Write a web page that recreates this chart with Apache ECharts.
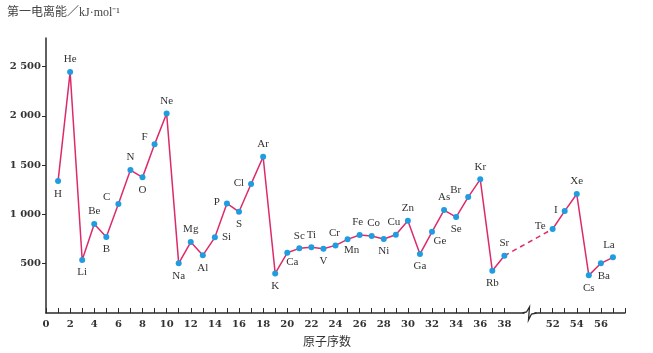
<!DOCTYPE html>
<html><head><meta charset="utf-8">
<script src="https://cdn.jsdelivr.net/npm/echarts@6/dist/echarts.min.js"></script>
<style>html,body{margin:0;padding:0;background:#fff}#c{width:653px;height:353px}</style>
</head><body><div id="c"></div>
<script>
const elements = ['H','He','Li','Be','B','C','N','O','F','Ne','Na','Mg','Al','Si','P','S','Cl','Ar','K','Ca','Sc','Ti','V','Cr','Mn','Fe','Co','Ni','Cu','Zn','Ga','Ge','As','Se','Br','Kr','Rb','Sr','Te','I','Xe','Cs','Ba','La'];
const atomicNumbers = [1,2,3,4,5,6,7,8,9,10,11,12,13,14,15,16,17,18,19,20,21,22,23,24,25,26,27,28,29,30,31,32,33,34,35,36,37,38,52,53,54,55,56,57];
const energies = [1338,2444,537,902,771,1105,1450,1376,1711,2025,504,720,585,768,1112,1027,1308,1585,402,611,656,666,652,686,747,791,781,750,794,936,598,824,1044,973,1176,1356,429,581,852,1034,1207,382,504,565];
const xTickLabels = [0,2,4,6,8,10,12,14,16,18,20,22,24,26,28,30,32,34,36,38,52,54,56];
const yTickLabels = [500,1000,1500,2000,2500];
const breakFrom = 38, breakTo = 52, breakGap = 4;

// axis-break scale: atomic number -> axis position
const toAxis = z => z > breakFrom ? z - (breakTo - breakFrom) + breakGap : z;
const fromAxis = v => v > breakFrom ? v + (breakTo - breakFrom) - breakGap : v;

const labelStyle = {
  H:['bottom',[0,0]], He:['top',[0,0]], Li:['bottom',[0,0]], Be:['top',[0,0]], B:['bottom',[0,0]],
  C:['left',[-1,-7]], N:['top',[0,0]], O:['bottom',[0,0]], F:['left',[0,-7]], Ne:['top',[0,0]],
  Na:['bottom',[0,0]], Mg:['top',[0,0]], Al:['bottom',[0,0]], Si:['right',[0,0]], P:['left',[0,-1]],
  S:['bottom',[0,0]], Cl:['left',[0,-1]], Ar:['top',[0,0]], K:['bottom',[0,0]], Ca:['bottom',[5,-3]],
  Sc:['top',[0,0]], Ti:['top',[0,0]], V:['bottom',[0,0]], Cr:['top',[-1,0]], Mn:['bottom',[4,-2]],
  Fe:['top',[-2,0]], Co:['top',[2,0]], Ni:['bottom',[0,0]], Cu:['top',[-2,0]], Zn:['top',[0,0]],
  Ga:['bottom',[0,0]], Ge:['bottom',[8,-3]], As:['top',[0,0]], Se:['bottom',[0,0]], Br:['left',[0,-7]],
  Kr:['top',[0,0]], Rb:['bottom',[0,0]], Sr:['top',[0,0]], Te:['left',[0,-3]], I:['left',[0,-1]],
  Xe:['top',[0,0]], Cs:['bottom',[0,0]], Ba:['bottom',[3,0]], La:['top',[-4,0]]
};

const solidData = [];
elements.forEach((el, i) => {
  const z = atomicNumbers[i];
  if (z === breakTo) solidData.push(null);
  const ls = labelStyle[el];
  solidData.push({
    value: [toAxis(z), energies[i]],
    name: el,
    label: { show: true, position: ls[0], offset: ls[1], formatter: el }
  });
});
const iSr = atomicNumbers.indexOf(breakFrom), iTe = atomicNumbers.indexOf(breakTo);
const dashedData = [[toAxis(atomicNumbers[iSr]), energies[iSr]], [toAxis(atomicNumbers[iTe]), energies[iTe]]];

const chart = echarts.init(document.getElementById('c'), null, {renderer: 'canvas'});
const axisColor = '#2b2b2b';
const tickFont = {fontFamily: 'DejaVu Serif', fontSize: 10, fontWeight: 'bold', color: '#333'};
const xTicks = [];
for (let v = 0; v <= toAxis(58); v++) { if (v <= breakFrom || v >= toAxis(51)) xTicks.push(v); }

chart.setOption({
  animation: false,
  grid: {left: 46, right: 28, top: 38, bottom: 40},
  xAxis: {
    type: 'value', min: 0, max: toAxis(58),
    axisLine: {lineStyle: {color: axisColor, width: 1.5}},
    axisTick: {show: true, inside: true, length: 5, customValues: xTicks, lineStyle: {color: axisColor, width: 1}},
    axisLabel: {customValues: xTickLabels.map(toAxis), margin: 6, formatter: v => String(Math.round(fromAxis(v))), ...tickFont},
    splitLine: {show: false}
  },
  yAxis: {
    type: 'value', min: 0, max: 2790,
    axisLine: {show: true, lineStyle: {color: axisColor, width: 1.5}},
    axisTick: {show: true, inside: false, length: 4, customValues: yTickLabels, lineStyle: {color: axisColor, width: 1}},
    axisLabel: {customValues: yTickLabels, margin: 5, formatter: v => v >= 1000 ? Math.floor(v/1000) + ' ' + String(v%1000).padStart(3,'0') : String(v), ...tickFont},
    splitLine: {show: false}
  },
  series: [
    {
      type: 'line', data: solidData, connectNulls: false,
      lineStyle: {color: '#dd2a6a', width: 1.5},
      symbol: 'circle', symbolSize: 6,
      itemStyle: {color: '#1f9de0'},
      label: {fontFamily: 'Liberation Serif', fontSize: 11, color: '#333', distance: 4},
      z: 3
    },
    {
      type: 'line', data: dashedData, symbol: 'none',
      lineStyle: {color: '#dd2a6a', width: 1.5, type: [5, 4]}, z: 2
    }
  ]
});

// axis break squiggle and axis name
const y0 = chart.convertToPixel({gridIndex: 0}, [0, 0])[1];
const bx = chart.convertToPixel({gridIndex: 0}, [breakFrom + 2, 0])[0] + 1;
chart.setOption({
  graphic: [
    {type: 'text', left: 303, top: 335, style: {text: '原子序数', font: '12px "Noto Sans CJK SC"', fill: '#333'}},
    {type: 'text', left: 7, top: 7, style: {text: '第一电离能／kJ·mol⁻¹', font: '12px "Liberation Serif", "Noto Sans CJK SC"', fill: '#444'}},
    {type: 'rect', shape: {x: bx - 5, y: y0 - 3, width: 10, height: 6}, style: {fill: '#fff'}, z: 100},
    {type: 'polyline', z: 101,
      shape: {points: [[bx-7, y0], [bx-3, y0-1], [bx, y0-6], [bx-1, y0+7], [bx+2, y0+1], [bx+7, y0]]},
      style: {fill: 'none', stroke: axisColor, lineWidth: 1.3}}
  ]
});
</script></body></html>
